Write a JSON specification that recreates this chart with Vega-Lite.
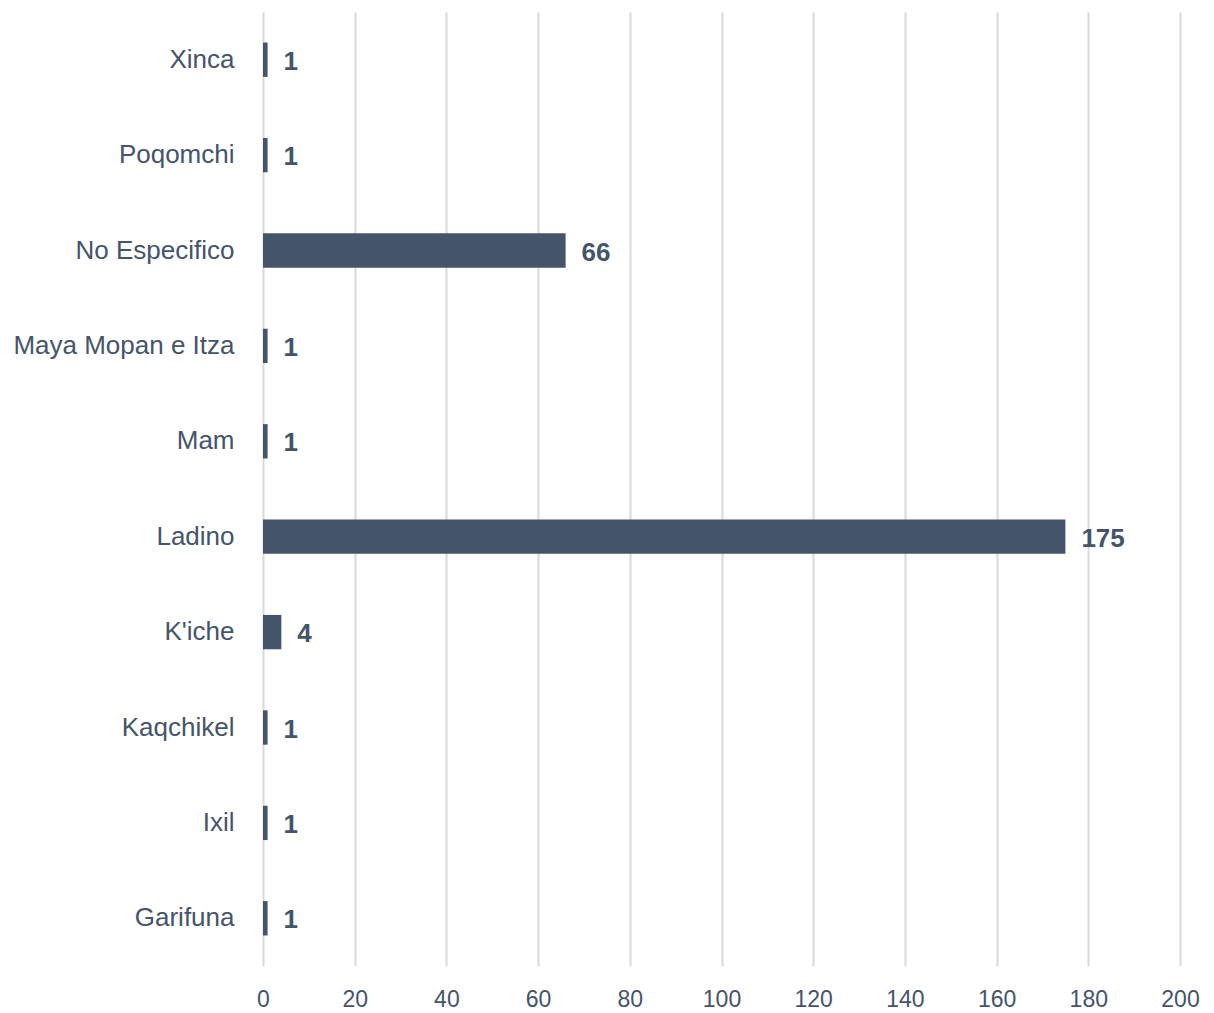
{
  "$schema": "https://vega.github.io/schema/vega-lite/v6.json",
  "width": 917,
  "height": 954,
  "autosize": {"type": "none"},
  "padding": {"left": 263, "top": 12, "right": 34, "bottom": 47},
  "background": "white",
  "config": {"view": {"stroke": null}},
  "data": {
    "values": [
      {"group": "Xinca", "count": 1},
      {"group": "Poqomchi", "count": 1},
      {"group": "No Especifico", "count": 66},
      {"group": "Maya Mopan e Itza", "count": 1},
      {"group": "Mam", "count": 1},
      {"group": "Ladino", "count": 175},
      {"group": "K'iche", "count": 4},
      {"group": "Kaqchikel", "count": 1},
      {"group": "Ixil", "count": 1},
      {"group": "Garifuna", "count": 1}
    ]
  },
  "encoding": {
    "y": {
      "field": "group",
      "type": "nominal",
      "sort": null,
      "scale": {"paddingInner": 0.64, "paddingOuter": 0.32},
      "axis": {
        "title": null,
        "domain": false,
        "ticks": false,
        "grid": false,
        "labelFont": "Liberation Sans",
        "labelFontSize": 26,
        "labelColor": "#44546A",
        "labelPadding": 29,
        "labelLimit": 300
      }
    },
    "x": {
      "field": "count",
      "type": "quantitative",
      "scale": {"domain": [0, 200], "nice": false},
      "axis": {
        "title": null,
        "values": [0, 20, 40, 60, 80, 100, 120, 140, 160, 180, 200],
        "domain": false,
        "ticks": false,
        "grid": true,
        "gridColor": "#D9D9D9",
        "gridWidth": 2,
        "labelFont": "Liberation Sans",
        "labelFontSize": 23,
        "labelColor": "#44546A",
        "labelPadding": 22,
        "labelFlush": false
      }
    }
  },
  "layer": [
    {"mark": {"type": "bar", "color": "#44546A"}},
    {
      "mark": {
        "type": "text",
        "align": "left",
        "baseline": "middle",
        "dx": 16,
        "dy": 2,
        "font": "Liberation Sans",
        "fontSize": 26,
        "fontWeight": "bold",
        "color": "#44546A"
      },
      "encoding": {"text": {"field": "count", "type": "quantitative"}}
    }
  ]
}
